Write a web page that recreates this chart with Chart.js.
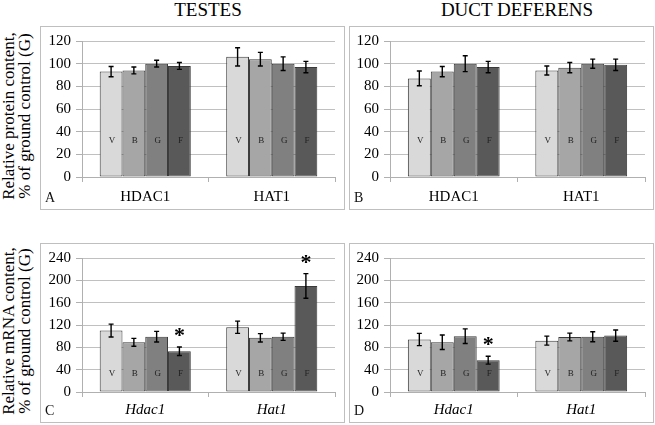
<!DOCTYPE html>
<html>
<head>
<meta charset="utf-8">
<script src="https://cdn.jsdelivr.net/npm/chart.js@4.4.1/dist/chart.umd.min.js"></script>
<style>
  body { margin: 0; background: #fff; }
  #wrap { position: relative; width: 655px; height: 425px; overflow: hidden; font-family: 'Liberation Serif'; }
  .panel { position: absolute; border: 1px solid #bfbfbf; box-sizing: border-box; }
  .panel canvas { position: absolute; left: 0; top: 0; }
  .letter { position: absolute; left: 4px; bottom: 3px; font-size: 14px; color: #111; font-family: 'Liberation Serif'; }
  .title { position: absolute; top: -1px; font-size: 19px; transform: translateX(-50%); white-space: nowrap; font-family: 'Liberation Serif'; }
  .ytitle { position: absolute; width: 230px; font-size: 17px; line-height: 16px; text-align: center; font-family: 'Liberation Serif';
            transform: translate(-50%, -50%) rotate(-90deg); white-space: nowrap; }
</style>
</head>
<body>
<div id="wrap">
  <div class="title" style="left:208px">TESTES</div>
  <div class="title" style="left:517px">DUCT DEFERENS</div>
  <div class="ytitle" style="left:17px;top:116px">Relative protein content,<br>% of ground control (G)</div>
  <div class="ytitle" style="left:17px;top:331px">Relative mRNA content,<br>% of ground control (G)</div>

  <div class="panel" style="left:40px;top:26px;width:305px;height:184px">
    <canvas id="chartA" width="303" height="182"></canvas><div class="letter">A</div>
  </div>
  <div class="panel" style="left:349px;top:26px;width:305px;height:184px">
    <canvas id="chartB" width="303" height="182"></canvas><div class="letter">B</div>
  </div>
  <div class="panel" style="left:40px;top:243px;width:305px;height:180px">
    <canvas id="chartC" width="303" height="178"></canvas><div class="letter">C</div>
  </div>
  <div class="panel" style="left:349px;top:243px;width:305px;height:180px">
    <canvas id="chartD" width="303" height="178"></canvas><div class="letter">D</div>
  </div>
</div>

<script>
// groups: vivarium, bion-M1 base, ground control, flight
const seriesNames = ["V", "B", "G", "F"];
const proteinCategories = ["HDAC1", "HAT1"];
const mrnaCategories = ["Hdac1", "Hat1"];

// rows = series (V, B, G, F), columns = categories
const testesProteinMeans = [[93, 106], [94, 104], [100, 100], [98, 97]];
const testesProteinErrors = [[4.5, 8], [3, 6], [3, 6], [3, 5]];

const ductProteinMeans = [[87, 94], [93, 96.5], [100, 100], [97, 99]];
const ductProteinErrors = [[6.5, 4], [4.5, 4.5], [7, 4], [5, 5]];

const testesMrnaMeans = [[110, 116], [89, 97], [99, 99], [73, 190]];
const testesMrnaErrors = [[11.5, 11], [7, 7.5], [9.5, 6.5], [7.5, 22]];
const testesMrnaSignificant = [[0, 0], [0, 0], [0, 0], [1, 1]];

const ductMrnaMeans = [[94, 92], [89, 98.5], [100, 99], [57, 101]];
const ductMrnaErrors = [[11, 8], [13, 7], [13, 9], [7, 10]];
const ductMrnaSignificant = [[0, 0], [0, 0], [0, 0], [1, 0]];

const barColors = ["#d9d9d9", "#a6a6a6", "#808080", "#595959"];
const letterValue = 32; // height where the V/B/G/F letters sit
const fontName = "'Liberation Serif'";

Chart.defaults.font.family = fontName;

/**
 * Draws error bars, letters inside bars and asterisks
 */
const extrasPlugin = {
  id: "extras",
  afterDatasetsDraw(chart, args, opts) {
    const ctx = chart.ctx;
    const y = chart.scales.y;
    chart.data.datasets.forEach((ds, i) => {
      const meta = chart.getDatasetMeta(i);
      meta.data.forEach((bar, j) => {
        const m = ds.data[j];
        const e = opts.errors[i][j];
        const top = y.getPixelForValue(m + e);
        const bot = y.getPixelForValue(m - e);
        ctx.save();
        // letter
        ctx.fillStyle = "#222";
        ctx.font = "9px " + fontName;
        ctx.textAlign = "center";
        ctx.textBaseline = "middle";
        ctx.fillText(seriesNames[i], bar.x + 1, y.getPixelForValue(letterValue));
        // error bar
        ctx.strokeStyle = "#000";
        ctx.lineWidth = 1.4;
        ctx.beginPath();
        ctx.moveTo(bar.x, top); ctx.lineTo(bar.x, bot);
        ctx.moveTo(bar.x - 2.5, top); ctx.lineTo(bar.x + 2.5, top);
        ctx.moveTo(bar.x - 2.5, bot); ctx.lineTo(bar.x + 2.5, bot);
        ctx.stroke();
        // significance mark
        if (opts.sig && opts.sig[i][j]) {
          ctx.fillStyle = "#000";
          ctx.font = "bold 22px " + fontName;
          ctx.textBaseline = "alphabetic";
          const mt = ctx.measureText("*");
          const h = mt.actualBoundingBoxAscent - mt.actualBoundingBoxDescent;
          const cy = top - 9.5;
          ctx.fillText("*", bar.x, cy + mt.actualBoundingBoxAscent - h / 2);
        }
        ctx.restore();
      });
    });
  },
};

/**
 * Builds one panel
 */
const makePanel = (id, categories, means, errors, sig, yMax, yStep, lay) => {
  const ctx = document.getElementById(id).getContext("2d");
  new Chart(ctx, {
    type: "bar",
    data: {
      labels: categories,
      datasets: means.map((vals, i) => ({
        label: seriesNames[i],
        data: vals,
        backgroundColor: barColors[i],
        borderColor: "#3a3a3a",
        borderWidth: 1,
        borderSkipped: false,
        categoryPercentage: 0.72,
        barPercentage: 1.0,
      })),
    },
    options: {
      responsive: false,
      animation: false,
      layout: { padding: { left: 0, top: lay.top, right: lay.right, bottom: 0 } },
      plugins: {
        legend: { display: false },
        tooltip: { enabled: false },
        extras: { errors: errors, sig: sig },
      },
      scales: {
        x: {
          afterFit: (s) => { s.height = lay.xHeight; },
          grid: { drawOnChartArea: false, drawTicks: true, tickLength: 5, color: "#b0b0b0" },
          border: { color: "#b0b0b0" },
          ticks: {
            color: "#000",
            padding: lay.xPad,
            font: { family: fontName, size: 15, style: lay.italic ? "italic" : "normal" },
          },
        },
        y: {
          min: 0,
          max: yMax,
          afterFit: (s) => { s.width = lay.yWidth; },
          grid: { color: "#c0c0c0", tickLength: 6, tickColor: "#b0b0b0" },
          border: { color: "#b0b0b0" },
          ticks: {
            stepSize: yStep,
            color: "#000",
            padding: 5,
            font: { family: fontName, size: 15 },
          },
        },
      },
    },
    plugins: [extrasPlugin],
  });
};

makePanel("chartA", proteinCategories, testesProteinMeans, testesProteinErrors, null, 120, 20,
  { top: 13, right: 9, yWidth: 41, xHeight: 32, xPad: 6, italic: false });
makePanel("chartB", proteinCategories, ductProteinMeans, ductProteinErrors, null, 120, 20,
  { top: 13, right: 8, yWidth: 40, xHeight: 32, xPad: 6, italic: false });
makePanel("chartC", mrnaCategories, testesMrnaMeans, testesMrnaErrors, testesMrnaSignificant, 240, 40,
  { top: 10, right: 9, yWidth: 41, xHeight: 30, xPad: 4, italic: true });
makePanel("chartD", mrnaCategories, ductMrnaMeans, ductMrnaErrors, ductMrnaSignificant, 240, 40,
  { top: 10, right: 8, yWidth: 40, xHeight: 30, xPad: 4, italic: true });
</script>
</body>
</html>
